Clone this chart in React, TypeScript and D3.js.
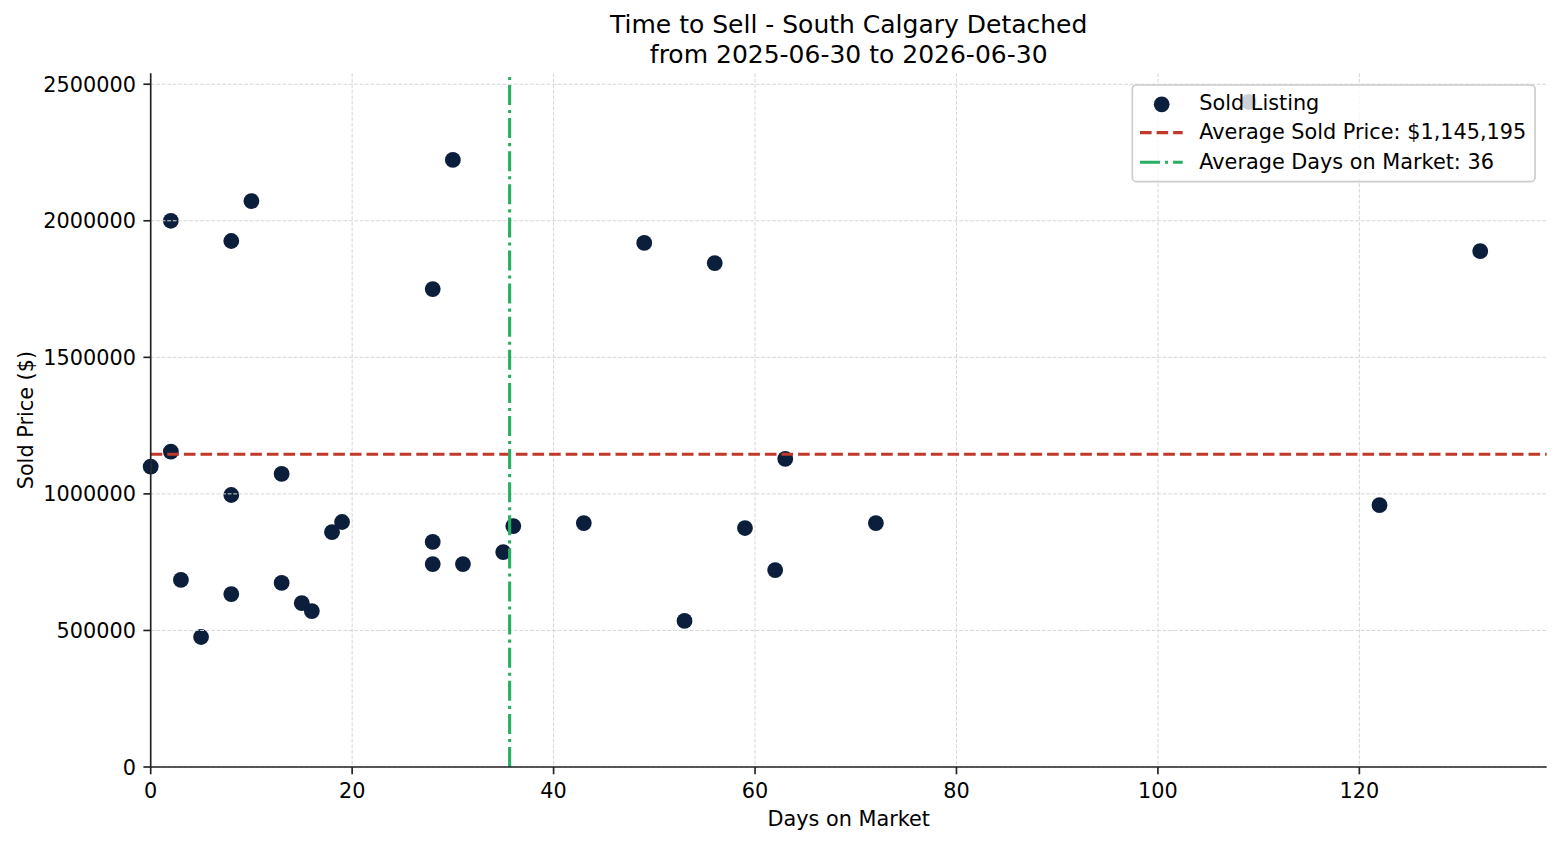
import React from "react";
import * as d3 from "d3";

const DAYS = [0, 2, 2, 3, 5, 8, 8, 8, 10, 13, 13, 15, 16, 18, 19, 28, 28, 28, 30, 31, 35, 36, 43, 49, 53, 56, 59, 62, 63, 72, 109, 122, 132];
const PRICES = [1100000, 1155000, 2000000, 685000, 476000, 1926000, 996000, 633000, 2072000, 1073000, 674000, 600000, 571000, 860000, 897000, 1750000, 824000, 743000, 2223000, 743000, 787000, 882000, 893000, 1919000, 535000, 1845000, 875000, 721000, 1128000, 893000, 2435000, 959000, 1889000];
const X_TICKS = [0, 20, 40, 60, 80, 100, 120];
const Y_TICKS = [0, 500000, 1000000, 1500000, 2000000, 2500000];
const AVG_PRICE = 1145195;
const TITLE_LINES = ["Time to Sell - South Calgary Detached", "from 2025-06-30 to 2026-06-30"];

const W = 1560, H = 845;
const L = 150.7, R = 1546.7, T = 73.3, B = 767;
const FONT = "DejaVu Sans, sans-serif";
const DOT = "#0b1e3b";
const RED = "#c0392b";
const GREEN = "#27ae60";

export default function App() {
  const x = d3.scaleLinear().domain([0, 138.6]).range([L, R]);
  const y = d3.scaleLinear().domain([0, 2540000]).range([B, T]);
  const avgDays = d3.mean(DAYS) as number;
  const data = DAYS.map((d, i) => ({ d, p: PRICES[i] }));
  const fmt = d3.format(",.0f");
  const legendItems = [
    { kind: "dot", label: "Sold Listing" },
    { kind: "dash", label: `Average Sold Price: $${fmt(AVG_PRICE)}` },
    { kind: "dashdot", label: `Average Days on Market: ${Math.round(avgDays)}` },
  ];
  const lg = { x: 1132.3, y: 85, w: 402.7, h: 96.7 };
  const rowY = [103.3, 132.6, 162.3];

  return (
    <svg width={W} height={H} style={{ position: "absolute", left: 0, top: 0, background: "#fff" }} fontFamily={FONT}>
      <rect x={0} y={0} width={W} height={H} fill="#fff" />
      {/* points */}
      <g>
        {data.map((e, i) => (
          <circle key={i} cx={x(e.d)} cy={y(e.p)} r={7.9} fill={DOT} />
        ))}
      </g>
      {/* grid */}
      <g stroke="#d6d6d6" strokeWidth={1} strokeDasharray="3.8,1.7">
        {X_TICKS.map((t) => (
          <line key={"gx" + t} x1={x(t)} x2={x(t)} y1={T} y2={B} />
        ))}
        {Y_TICKS.map((t) => (
          <line key={"gy" + t} x1={L} x2={R} y1={y(t)} y2={y(t)} />
        ))}
      </g>
      {/* average lines */}
      <line x1={L} x2={R} y1={y(AVG_PRICE)} y2={y(AVG_PRICE)} stroke={RED} strokeWidth={3.1} strokeDasharray="11.6,5" />
      <line x1={x(avgDays)} x2={x(avgDays)} y1={B} y2={T} stroke={GREEN} strokeWidth={3.1} strokeDasharray="20,5,3.1,5" />
      {/* spines */}
      <line x1={L} x2={L} y1={T} y2={B + 0.8} stroke="#222" strokeWidth={1.67} />
      <line x1={L - 0.8} x2={R} y1={B} y2={B} stroke="#222" strokeWidth={1.67} />
      {/* x ticks */}
      <g fontSize={20.8} fill="#000">
        {X_TICKS.map((t) => (
          <g key={"xt" + t}>
            <line x1={x(t)} x2={x(t)} y1={B} y2={B + 7.3} stroke="#222" strokeWidth={1.67} />
            <text x={x(t)} y={798} textAnchor="middle">{t}</text>
          </g>
        ))}
        {Y_TICKS.map((t) => (
          <g key={"yt" + t}>
            <line x1={L - 7.3} x2={L} y1={y(t)} y2={y(t)} stroke="#222" strokeWidth={1.67} />
            <text x={L - 14.8} y={y(t) + 7.6} textAnchor="end">{t}</text>
          </g>
        ))}
      </g>
      {/* axis labels */}
      <text x={(L + R) / 2} y={826} textAnchor="middle" fontSize={20.8} fill="#000">Days on Market</text>
      <text transform={`translate(33,${(T + B) / 2}) rotate(-90)`} textAnchor="middle" fontSize={20.8} fill="#000">Sold Price ($)</text>
      {/* title */}
      {TITLE_LINES.map((s, i) => (
        <text key={"t" + i} x={(L + R) / 2} y={33.3 + i * 29.5} textAnchor="middle" fontSize={25} fill="#000">{s}</text>
      ))}
      {/* legend */}
      <g>
        <rect x={lg.x} y={lg.y} width={lg.w} height={lg.h} rx={4} ry={4} fill="#fff" fillOpacity={0.8} stroke="#cccccc" strokeWidth={1.67} />
        {legendItems.map((it, i) => (
          <g key={"lg" + i}>
            {it.kind === "dot" && <circle cx={1161.7} cy={rowY[i] + 1} r={7.9} fill={DOT} />}
            {it.kind === "dash" && (
              <line x1={1140} x2={1182.7} y1={rowY[i]} y2={rowY[i]} stroke={RED} strokeWidth={3.1} strokeDasharray="11.6,5" />
            )}
            {it.kind === "dashdot" && (
              <line x1={1140} x2={1182.7} y1={rowY[i]} y2={rowY[i]} stroke={GREEN} strokeWidth={3.1} strokeDasharray="20,5,3.1,5" />
            )}
            <text x={1199.3} y={rowY[i] + 6.2} fontSize={20.8} fill="#000">{it.label}</text>
          </g>
        ))}
      </g>
    </svg>
  );
}
